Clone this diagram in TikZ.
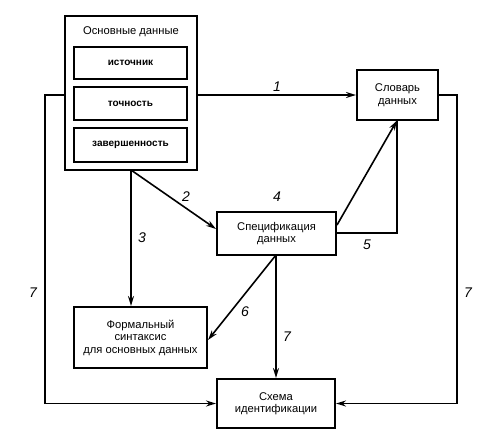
\documentclass[tikz,border=0pt]{standalone}
\usepackage{fontspec}
\setmainfont{Liberation Sans}
\usetikzlibrary{arrows.meta}
\begin{document}
\begin{tikzpicture}[x=1pt,y=-1pt,
  box/.style={draw,line width=2pt,rectangle,inner sep=0pt,align=center,
    font=\fontsize{11.2}{12.5}\selectfont},
  inbox/.style={box,minimum width=113pt,font=\fontsize{10}{12}\selectfont\bfseries},
  conn/.style={line width=1.6pt},
  arr/.style={conn,-{Stealth[length=10pt,width=6pt]}},
  lbl/.style={font=\fontsize{14}{14}\selectfont\itshape,inner sep=0pt}]
\useasboundingbox (0,0) rectangle (480,434);
\node[box,minimum width=132pt,minimum height=154pt] (main) at (131,93) {};
\node[font=\fontsize{11.2}{12.5}\selectfont,inner sep=0pt] (maint) at (131,32) {Основные данные};
\node[inbox,minimum height=32pt] (src) at (130.5,63) {источник};
\node[inbox,minimum height=33pt] (acc) at (130.5,103.5) {точность};
\node[inbox,minimum height=34pt] (cmp) at (130.5,145) {завершенность};
\node[box,minimum width=81pt,minimum height=50pt] (dict) at (397.5,95) {Словарь\\данных};
\node[box,minimum width=119pt,minimum height=43pt] (spec) at (276.5,233.5) {Спецификация\\данных};
\node[box,minimum width=133pt,minimum height=61pt] (formal) at (140.5,337.5) {Формальный\\синтаксис\\для основных данных};
\node[box,minimum width=118pt,minimum height=49pt] (scheme) at (276,403.5) {Схема\\идентификации};
\coordinate (ml) at (45,95);
\coordinate (mlb) at (45,403.5);
\coordinate (dr) at (457,95);
\coordinate (drb) at (457,403.5);
\coordinate (ms) at (131,170);
\coordinate (ss) at (276,255);
\coordinate (sd) at (337,225);
\coordinate (se) at (335.5,233);
\coordinate (dc) at (397,233);
\coordinate (db) at (397,120.5);
% 1
\draw[arr] (main.east |- dict.west) -- (dict.west);
% left 7
\draw[arr] (main.west |- ml) -- (ml) -- (mlb) -- (scheme.west);
% right 7
\draw[arr] (dict.east) -- (dr) -- (drb) -- (scheme.east);
% 2
\draw[arr] (ms) -- (spec.west |- 0,229);
% 3
\draw[arr] (ms) -- (ms |- formal.north);
% 5
\draw[conn] (se) -- (dc) -- (db);
\draw[arr] (sd) -- (db);
% 6
\draw[arr] (ss) -- (formal.east |- 0,340);
% 7
\draw[arr] (ss) -- (ss |- scheme.north);
\node[lbl] (l1) at (277,87) {1};
\node[lbl] (l2) at (186,197) {2};
\node[lbl] (l3) at (142,238) {3};
\node[lbl] (l4) at (277,197) {4};
\node[lbl] (l5) at (367,245) {5};
\node[lbl] (l6) at (245,312) {6};
\node[lbl] (l7) at (287,337) {7};
\node[lbl] (l7a) at (33,293) {7};
\node[lbl] (l7b) at (468,293) {7};
\end{tikzpicture}
\end{document}
